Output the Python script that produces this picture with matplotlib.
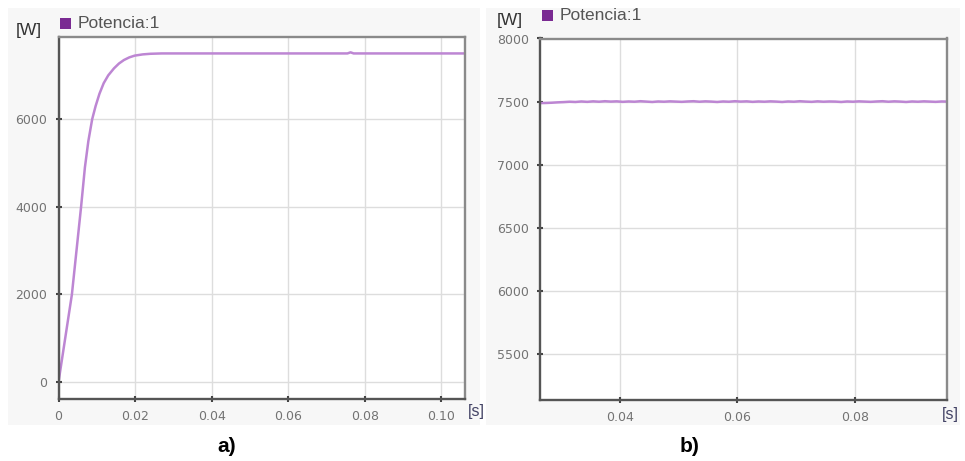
import numpy as np
import matplotlib
matplotlib.use("Agg")
import matplotlib.pyplot as plt
from matplotlib.patches import Rectangle

# Panel a): power start-up transient
t_a = [0.0, 0.0035, 0.0047, 0.0059, 0.0069, 0.0078, 0.0088, 0.0097, 0.0107,
       0.0118, 0.0130, 0.0145, 0.0158, 0.0171, 0.0185, 0.0199, 0.0220, 0.0240,
       0.0270, 0.0500, 0.0755, 0.0763, 0.0771, 0.1062]
p_a = [0, 2000, 3000, 4000, 4900, 5500, 6000, 6300, 6580,
       6820, 7000, 7160, 7270, 7350, 7410, 7450, 7478, 7492,
       7500, 7500, 7500, 7525, 7500, 7500]

# Panel b): steady-state power
p_b = [7488, 7489, 7491, 7494, 7496, 7499, 7497, 7501, 7498, 7502, 7499, 7503,
       7500, 7502, 7498, 7501, 7499, 7503, 7500, 7497, 7501, 7499, 7502, 7500,
       7498, 7501, 7503, 7499, 7502, 7500, 7497, 7501, 7499, 7503, 7500, 7502,
       7498, 7501, 7499, 7502, 7500, 7497, 7501, 7499, 7503, 7500, 7498, 7502,
       7499, 7501, 7500, 7497, 7501, 7499, 7502, 7500, 7498, 7501, 7503, 7499,
       7502, 7500, 7497, 7501, 7499, 7502, 7500, 7498, 7501, 7500]
t_b = np.linspace(0.0264, 0.0958, len(p_b))

xticks_a = [0, 0.02, 0.04, 0.06, 0.08, 0.10]
xlabels_a = ["0", "0.02", "0.04", "0.06", "0.08", "0.10"]
yticks_a = [0, 2000, 4000, 6000]
xticks_b = [0.04, 0.06, 0.08]
xlabels_b = ["0.04", "0.06", "0.08"]
yticks_b = [5500, 6000, 6500, 7000, 7500, 8000]

series_name = "Potencia:1"
line_color = "#bd86d3"
legend_color = "#7a2a92"
text_color = "#555555"

W, H = 965, 461
fig = plt.figure(figsize=(W / 100, H / 100), dpi=100)
fig.patch.set_facecolor("white")


def px_axes(x0, y0, x1, y1, **kw):
    return fig.add_axes([x0 / W, 1 - y1 / H, (x1 - x0) / W, (y1 - y0) / H], **kw)


def px_text(x, y, s, **kw):
    fig.text(x / W, 1 - y / H, s, **kw)


# light panel backgrounds, kept behind the axes
for x0, x1 in [(8, 480), (486, 960)]:
    fig.patches.append(Rectangle((x0 / W, 1 - 425 / H), (x1 - x0) / W, (425 - 8) / H,
                                 transform=fig.transFigure, facecolor="#f7f7f7",
                                 edgecolor="none", zorder=-10))


def style(ax):
    ax.set_zorder(2)
    ax.set_facecolor("white")
    ax.grid(True, color="#dddddd", lw=1.0)
    ax.set_axisbelow(True)
    for side in ["left", "bottom"]:
        ax.spines[side].set_color("#555555")
        ax.spines[side].set_linewidth(1.7)
    for side in ["top", "right"]:
        ax.spines[side].set_color("#8a8a8a")
        ax.spines[side].set_linewidth(1.7)
    ax.tick_params(direction="inout", length=4, width=1.5, color="#444444",
                   labelsize=9, labelcolor="#737373", pad=6)


# panel a
ax1 = px_axes(58.5, 37, 465, 398.5)
ax1.plot(t_a, p_a, color=line_color, lw=1.8)
ax1.set_xlim(0, 0.1062)
ax1.set_ylim(-375, 7875)
ax1.set_xticks(xticks_a, xlabels_a)
ax1.set_yticks(yticks_a)
style(ax1)

# panel b
ax2 = px_axes(540, 38.5, 947.5, 400)
ax2.plot(t_b, p_b, color=line_color, lw=1.8)
ax2.set_xlim(0.0264, 0.0958)
ax2.set_ylim(5135, 8000)
ax2.set_xticks(xticks_b, xlabels_b)
ax2.set_yticks(yticks_b)
style(ax2)

# units and legends
for wx, wy, sqx, sqy in [(29, 31, 60, 18), (510, 20, 542, 10)]:
    px_text(wx, wy, "[W]", fontsize=12.5, color="#333333", family="Liberation Sans",
            ha="center", va="center")
    fig.patches.append(Rectangle((sqx / W, 1 - (sqy + 11) / H), 11 / W, 11 / H,
                                 transform=fig.transFigure, facecolor=legend_color,
                                 edgecolor="none", zorder=3))
    px_text(sqx + 18, sqy + 5.5, series_name, fontsize=12.5, color=text_color,
            family="Liberation Sans", ha="left", va="center")

px_text(476, 411, "[s]", fontsize=11.5, color="#444466", family="Liberation Sans",
        ha="center", va="center")
px_text(950, 414, "[s]", fontsize=11.5, color="#444466", family="Liberation Sans",
        ha="center", va="center")

px_text(227, 446, "a)", fontsize=15, weight="bold", color="black",
        family="Liberation Sans", ha="center", va="center")
px_text(690, 446, "b)", fontsize=15, weight="bold", color="black",
        family="Liberation Sans", ha="center", va="center")

fig.savefig("out.png", dpi=100, facecolor="white")
